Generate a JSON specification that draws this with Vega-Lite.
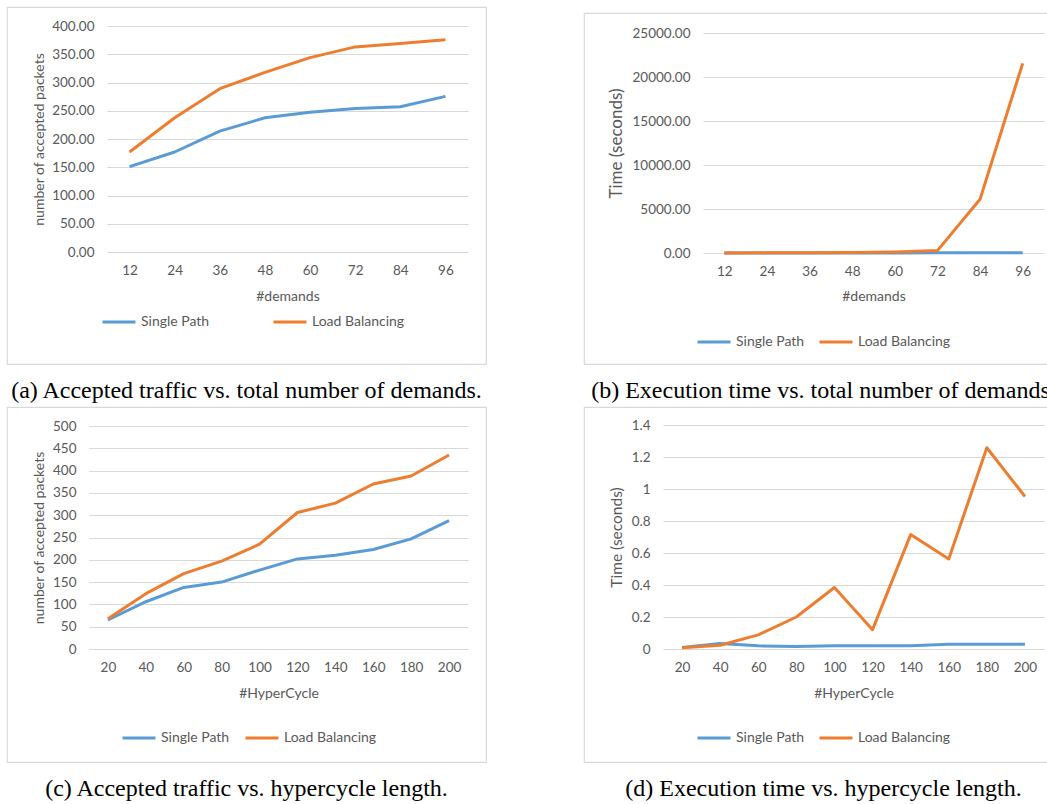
{
  "$schema": "https://vega.github.io/schema/vega-lite/v6.json",
  "padding": {"left": 6, "top": 6, "right": 0, "bottom": 0},
  "background": "white",
  "config": {
    "font": "Lato",
    "view": {"stroke": "#d9d9d9", "strokeWidth": 1.2},
    "axis": {
      "labelFont": "Lato", "labelFontSize": 13.5, "labelColor": "#595959",
      "titleFont": "Lato", "titleFontSize": 14, "titleColor": "#595959", "titleFontWeight": "normal",
      "ticks": false, "tickSize": 0, "domain": false, "grid": false,
      "gridColor": "#d9d9d9", "gridWidth": 1
    },
    "axisX": {"labelAngle": 0, "labelPadding": 11, "titleBaseline": "middle"},
    "axisY": {"grid": true, "labelPadding": 13, "titleBaseline": "middle"},
    "legend": {
      "labelFont": "Lato", "labelFontSize": 14, "labelColor": "#595959",
      "symbolType": "stroke", "symbolSize": 1089, "symbolStrokeWidth": 4,
      "labelOffset": 4, "title": null, "orient": "none", "direction": "horizontal", "columns": 2
    },
    "title": {"font": "Liberation Serif", "fontSize": 24, "fontWeight": "normal", "color": "#000000", "orient": "bottom", "anchor": "middle", "offset": 15},
    "line": {"strokeWidth": 3, "strokeJoin": "round"}
  },
  "datasets": {
    "a": [
      {"demands": 12, "series": "Single Path", "packets": 151},
      {"demands": 24, "series": "Single Path", "packets": 177},
      {"demands": 36, "series": "Single Path", "packets": 214},
      {"demands": 48, "series": "Single Path", "packets": 237.5},
      {"demands": 60, "series": "Single Path", "packets": 247.5},
      {"demands": 72, "series": "Single Path", "packets": 254},
      {"demands": 84, "series": "Single Path", "packets": 257},
      {"demands": 96, "series": "Single Path", "packets": 275.5},
      {"demands": 12, "series": "Load Balancing", "packets": 177},
      {"demands": 24, "series": "Load Balancing", "packets": 237.5},
      {"demands": 36, "series": "Load Balancing", "packets": 289},
      {"demands": 48, "series": "Load Balancing", "packets": 318},
      {"demands": 60, "series": "Load Balancing", "packets": 344},
      {"demands": 72, "series": "Load Balancing", "packets": 363},
      {"demands": 84, "series": "Load Balancing", "packets": 369},
      {"demands": 96, "series": "Load Balancing", "packets": 375.5}
    ],
    "b": [
      {"demands": 12, "series": "Single Path", "time": 2},
      {"demands": 24, "series": "Single Path", "time": 3},
      {"demands": 36, "series": "Single Path", "time": 5},
      {"demands": 48, "series": "Single Path", "time": 8},
      {"demands": 60, "series": "Single Path", "time": 10},
      {"demands": 72, "series": "Single Path", "time": 15},
      {"demands": 84, "series": "Single Path", "time": 20},
      {"demands": 96, "series": "Single Path", "time": 25},
      {"demands": 12, "series": "Load Balancing", "time": 5},
      {"demands": 24, "series": "Load Balancing", "time": 15},
      {"demands": 36, "series": "Load Balancing", "time": 30},
      {"demands": 48, "series": "Load Balancing", "time": 50},
      {"demands": 60, "series": "Load Balancing", "time": 110},
      {"demands": 72, "series": "Load Balancing", "time": 270},
      {"demands": 84, "series": "Load Balancing", "time": 6100},
      {"demands": 96, "series": "Load Balancing", "time": 21550}
    ],
    "c": [
      {"hyper": 20, "series": "Single Path", "packets": 65},
      {"hyper": 40, "series": "Single Path", "packets": 106},
      {"hyper": 60, "series": "Single Path", "packets": 138},
      {"hyper": 80, "series": "Single Path", "packets": 150},
      {"hyper": 100, "series": "Single Path", "packets": 177},
      {"hyper": 120, "series": "Single Path", "packets": 202},
      {"hyper": 140, "series": "Single Path", "packets": 210},
      {"hyper": 160, "series": "Single Path", "packets": 223},
      {"hyper": 180, "series": "Single Path", "packets": 247},
      {"hyper": 200, "series": "Single Path", "packets": 288},
      {"hyper": 20, "series": "Load Balancing", "packets": 68},
      {"hyper": 40, "series": "Load Balancing", "packets": 124},
      {"hyper": 60, "series": "Load Balancing", "packets": 169},
      {"hyper": 80, "series": "Load Balancing", "packets": 197},
      {"hyper": 100, "series": "Load Balancing", "packets": 235},
      {"hyper": 120, "series": "Load Balancing", "packets": 306},
      {"hyper": 140, "series": "Load Balancing", "packets": 327},
      {"hyper": 160, "series": "Load Balancing", "packets": 370},
      {"hyper": 180, "series": "Load Balancing", "packets": 388},
      {"hyper": 200, "series": "Load Balancing", "packets": 435}
    ],
    "d": [
      {"hyper": 20, "series": "Single Path", "time": 0.01},
      {"hyper": 40, "series": "Single Path", "time": 0.035},
      {"hyper": 60, "series": "Single Path", "time": 0.02},
      {"hyper": 80, "series": "Single Path", "time": 0.015},
      {"hyper": 100, "series": "Single Path", "time": 0.02},
      {"hyper": 120, "series": "Single Path", "time": 0.02},
      {"hyper": 140, "series": "Single Path", "time": 0.02},
      {"hyper": 160, "series": "Single Path", "time": 0.03},
      {"hyper": 180, "series": "Single Path", "time": 0.03},
      {"hyper": 200, "series": "Single Path", "time": 0.03},
      {"hyper": 20, "series": "Load Balancing", "time": 0.008},
      {"hyper": 40, "series": "Load Balancing", "time": 0.023},
      {"hyper": 60, "series": "Load Balancing", "time": 0.088},
      {"hyper": 80, "series": "Load Balancing", "time": 0.2},
      {"hyper": 100, "series": "Load Balancing", "time": 0.384},
      {"hyper": 120, "series": "Load Balancing", "time": 0.121},
      {"hyper": 140, "series": "Load Balancing", "time": 0.715},
      {"hyper": 160, "series": "Load Balancing", "time": 0.563},
      {"hyper": 180, "series": "Load Balancing", "time": 1.258},
      {"hyper": 200, "series": "Load Balancing", "time": 0.953}
    ]
  },
  "resolve": {"legend": {"color": "independent"}},
  "spacing": 96,
  "hconcat": [
    {
      "spacing": 2,
      "resolve": {"legend": {"color": "independent"}},
      "vconcat": [
        {
          "width": 479, "height": 357,
          "data": {"name": "a"},
          "title": {"text": "(a) Accepted traffic vs. total number of demands."},
          "mark": {"type": "line"},
          "encoding": {
            "x": {"field": "demands", "type": "ordinal",
              "scale": {"type": "point", "padding": 0.5, "range": [100, 461]},
              "axis": {"title": "#demands", "offset": -112, "titleY": 44}},
            "y": {"field": "packets", "type": "quantitative",
              "scale": {"domain": [0, 400], "range": [245, 19], "nice": false},
              "axis": {"title": "number of accepted packets", "offset": -100, "titleX": -68,
                "values": [0, 50, 100, 150, 200, 250, 300, 350, 400], "format": ".2f"}},
            "color": {"field": "series", "type": "nominal",
              "scale": {"domain": ["Single Path", "Load Balancing"], "range": ["#5B9BD5", "#ED7D31"]},
              "legend": {"legendX": 94, "legendY": 297, "columnPadding": 62}}
          }
        },
        {
          "width": 479, "height": 355,
          "data": {"name": "c"},
          "title": {"text": "(c) Accepted traffic vs. hypercycle length."},
          "mark": {"type": "line"},
          "encoding": {
            "x": {"field": "hyper", "type": "ordinal",
              "scale": {"type": "point", "padding": 0.5, "range": [82, 461]},
              "axis": {"title": "#HyperCycle", "offset": -113, "titleY": 44}},
            "y": {"field": "packets", "type": "quantitative",
              "scale": {"domain": [0, 500], "range": [242, 19], "nice": false},
              "axis": {"title": "number of accepted packets", "offset": -82, "titleX": -50,
                "values": [0, 50, 100, 150, 200, 250, 300, 350, 400, 450, 500], "format": "d"}},
            "color": {"field": "series", "type": "nominal",
              "scale": {"domain": ["Single Path", "Load Balancing"], "range": ["#5B9BD5", "#ED7D31"]},
              "legend": {"legendX": 114, "legendY": 313, "columnPadding": 14}}
          }
        }
      ]
    },
    {
      "spacing": 2,
      "resolve": {"legend": {"color": "independent"}},
      "vconcat": [
        {
          "width": 479, "height": 3,
          "view": {"stroke": null},
          "data": {"values": []},
          "mark": {"type": "point"}
        },
        {
          "width": 479, "height": 351,
          "data": {"name": "b"},
          "title": {"text": "(b) Execution time vs. total number of demands."},
          "mark": {"type": "line"},
          "encoding": {
            "x": {"field": "demands", "type": "ordinal",
              "scale": {"type": "point", "padding": 0.5, "range": [119, 460]},
              "axis": {"title": "#demands", "offset": -111, "titleY": 43}},
            "y": {"field": "time", "type": "quantitative",
              "scale": {"domain": [0, 25000], "range": [240, 20], "nice": false},
              "axis": {"title": "Time (seconds)", "offset": -119, "titleX": -87, "titleFontSize": 17,
                "values": [0, 5000, 10000, 15000, 20000, 25000], "format": ".2f"}},
            "color": {"field": "series", "type": "nominal",
              "scale": {"domain": ["Single Path", "Load Balancing"], "range": ["#5B9BD5", "#ED7D31"]},
              "legend": {"legendX": 112, "legendY": 311, "columnPadding": 13}}
          }
        },
        {
          "width": 479, "height": 355,
          "data": {"name": "d"},
          "title": {"text": "(d) Execution time vs. hypercycle length."},
          "mark": {"type": "line"},
          "encoding": {
            "x": {"field": "hyper", "type": "ordinal",
              "scale": {"type": "point", "padding": 0.5, "range": [79, 460]},
              "axis": {"title": "#HyperCycle", "offset": -113, "titleY": 44}},
            "y": {"field": "time", "type": "quantitative",
              "scale": {"domain": [0, 1.4], "range": [242, 18], "nice": false},
              "axis": {"title": "Time (seconds)", "offset": -79, "titleX": -47, "titleFontSize": 15.5,
                "values": [0, 0.2, 0.4, 0.6, 0.8, 1, 1.2, 1.4], "format": "~g"}},
            "color": {"field": "series", "type": "nominal",
              "scale": {"domain": ["Single Path", "Load Balancing"], "range": ["#5B9BD5", "#ED7D31"]},
              "legend": {"legendX": 112, "legendY": 313, "columnPadding": 13}}
          }
        }
      ]
    }
  ]
}
